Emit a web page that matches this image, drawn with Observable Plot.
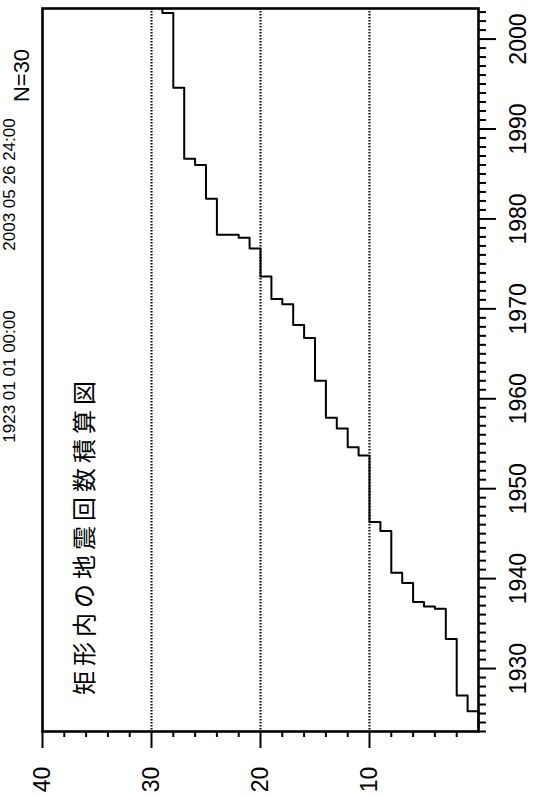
<!DOCTYPE html>
<html><head><meta charset="utf-8">
<script src="https://cdn.jsdelivr.net/npm/d3@7"></script>
<script src="https://cdn.jsdelivr.net/npm/@observablehq/plot@0.6"></script>
<style>
html,body{margin:0;padding:0;background:#fff;}
#chart svg{display:block;background:#fff;}
</style></head><body><div id="chart"></div>
<script>
// ---- data ----
const title = "矩形内の地震回数積算図";
const periodStart = "1923 01 01 00:00";
const periodEnd = "2003 05 26 24:00";
const totalLabel = "N=30";

const stepYears = [1923.0, 1925.26, 1927.0, 1933.3, 1936.65, 1936.9, 1937.4, 1939.5, 1940.65, 1945.3,
  1946.3, 1953.7, 1954.6, 1956.7, 1957.9, 1962.0, 1966.75, 1968.2, 1970.5, 1971.1,
  1973.6, 1976.7, 1977.9, 1978.25, 1982.25, 1986.0, 1986.7, 1994.6, 2002.9, 2003.4];
const stepCounts = [0, 1, 2, 3, 4, 5, 6, 7, 8, 9,
  10, 11, 12, 13, 14, 15, 16, 17, 18, 19,
  20, 21, 22, 24, 25, 26, 27, 28, 29, 29];

const countDomain = [40, 0];
const yearDomain = [1923, 2003.4];
const gridCounts = [10, 20, 30];
const countMajorTicks = [10, 20, 30, 40];
const countMinorTicks = [2, 4, 6, 8, 12, 14, 16, 18, 22, 24, 26, 28, 32, 34, 36, 38];
const yearMajorTicks = [1930, 1940, 1950, 1960, 1970, 1980, 1990, 2000];
const yearMinorTicks = [1923, 1924, 1925, 1926, 1927, 1928, 1929, 1931, 1932, 1933, 1934, 1935, 1936, 1937, 1938, 1939,
  1941, 1942, 1943, 1944, 1945, 1946, 1947, 1948, 1949, 1951, 1952, 1953, 1954, 1955, 1956, 1957, 1958, 1959,
  1961, 1962, 1963, 1964, 1965, 1966, 1967, 1968, 1969, 1971, 1972, 1973, 1974, 1975, 1976, 1977, 1978, 1979,
  1981, 1982, 1983, 1984, 1985, 1986, 1987, 1988, 1989, 1991, 1992, 1993, 1994, 1995, 1996, 1997, 1998, 1999,
  2001, 2002, 2003];

const steps = stepYears.map((y, i) => ({year: y, count: stepCounts[i]}));

const numFont = "'Liberation Sans', Arial, sans-serif";
const jpFont = "'Noto Sans CJK JP', 'Noto Sans CJK SC', sans-serif";

const chart = Plot.plot({
  width: 536,
  height: 795,
  marginTop: 8,
  marginBottom: 64,
  marginLeft: 42,
  marginRight: 58,
  x: {domain: countDomain, label: null},
  y: {domain: yearDomain, label: null},
  marks: [
    Plot.ruleX(gridCounts, {stroke: "#111", strokeWidth: 2.2, strokeDasharray: "1.5,1.5"}),
    Plot.line(steps, {x: "count", y: "year", curve: "step-before", stroke: "#000", strokeWidth: 2}),
    Plot.frame({stroke: "#000", strokeWidth: 2.6}),
    Plot.axisX({anchor: "bottom", ticks: countMajorTicks, tickSize: 17, tickFormat: () => "", label: null, strokeWidth: 2, stroke: "#000"}),
    Plot.axisX({anchor: "bottom", ticks: countMinorTicks, tickSize: 6, tickFormat: () => "", label: null, strokeWidth: 2, stroke: "#000"}),
    Plot.axisY({anchor: "right", ticks: yearMajorTicks, tickSize: 17, tickFormat: () => "", label: null, strokeWidth: 2, stroke: "#000"}),
    Plot.axisY({anchor: "right", ticks: yearMinorTicks, tickSize: 7, tickFormat: () => "", label: null, strokeWidth: 2, stroke: "#000"}),
    Plot.text(countMajorTicks, {x: d => d, frameAnchor: "bottom", dy: 48, rotate: -90, text: d => String(d),
      fontSize: 23, fontFamily: numFont, textAnchor: "middle", lineAnchor: "middle", fill: "#000"}),
    Plot.text(yearMajorTicks, {y: d => d, frameAnchor: "right", dx: 40, rotate: -90, text: d => String(d),
      fontSize: 23, fontFamily: numFont, textAnchor: "middle", lineAnchor: "middle", fill: "#000"}),
    Plot.text([title], {frameAnchor: "top-left", dx: 43, dy: 527, rotate: -90, text: d => d,
      fontSize: 24, fontFamily: jpFont, textAnchor: "middle", lineAnchor: "middle", fill: "#000"}),
    Plot.text([totalLabel], {frameAnchor: "top-left", dx: -21, dy: 67, rotate: -90, text: d => d,
      fontSize: 22, fontFamily: numFont, textAnchor: "middle", lineAnchor: "middle", fill: "#000"}),
    Plot.text([periodEnd], {frameAnchor: "top-left", dx: -33, dy: 176, rotate: -90, text: d => d,
      fontSize: 17, fontFamily: numFont, textAnchor: "middle", lineAnchor: "middle", fill: "#000"}),
    Plot.text([periodStart], {frameAnchor: "top-left", dx: -33, dy: 368, rotate: -90, text: d => d,
      fontSize: 17, fontFamily: numFont, textAnchor: "middle", lineAnchor: "middle", fill: "#000"})
  ]
});

chart.querySelectorAll("text").forEach(t => {
  if (t.textContent === title) t.style.letterSpacing = "5px";
});
document.getElementById("chart").appendChild(chart);
</script>
</body></html>
